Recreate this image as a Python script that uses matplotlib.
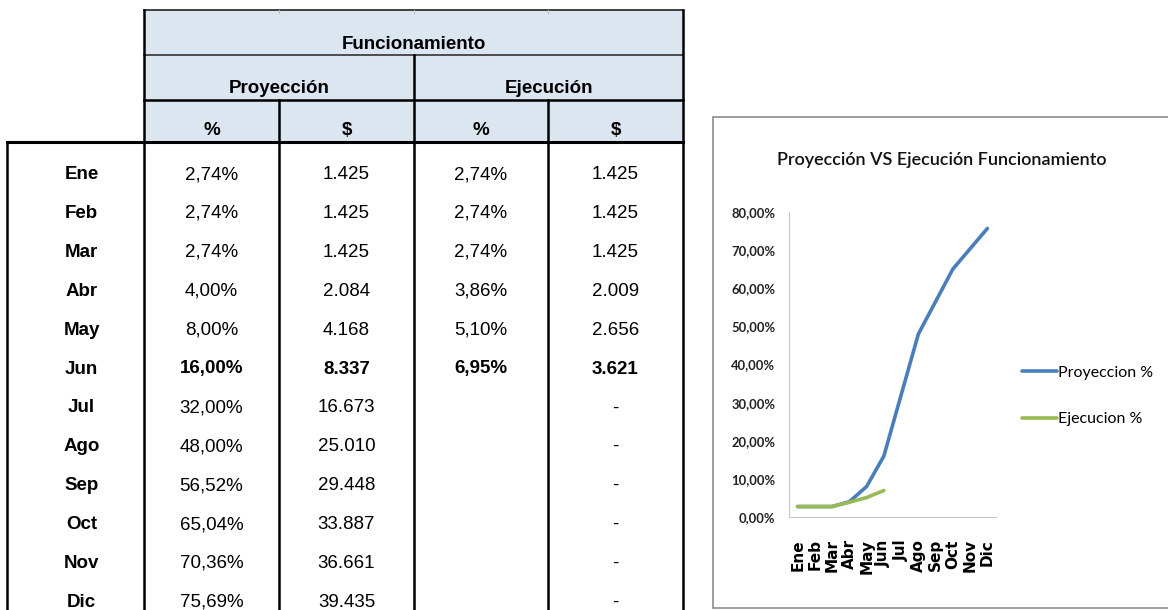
import matplotlib
matplotlib.use('Agg')
import matplotlib.pyplot as plt
from matplotlib.patches import Rectangle

# Data for the table and chart
months = ['Ene', 'Feb', 'Mar', 'Abr', 'May', 'Jun', 'Jul', 'Ago', 'Sep', 'Oct', 'Nov', 'Dic']
proy_pct = [2.74, 2.74, 2.74, 4.00, 8.00, 16.00, 32.00, 48.00, 56.52, 65.04, 70.36, 75.69]
proy_val = [1425, 1425, 1425, 2084, 4168, 8337, 16673, 25010, 29448, 33887, 36661, 39435]
ejec_pct = [2.74, 2.74, 2.74, 3.86, 5.10, 6.95]
ejec_val = [1425, 1425, 1425, 2009, 2656, 3621]
bold_row = 'Jun'

def fmt_pct(v):
    return f'{v:.2f}'.replace('.', ',') + '%'

def fmt_val(v):
    return f'{v:,}'.replace(',', '.')

fig = plt.figure(figsize=(11.68, 6.10), dpi=100)

# ---- table drawn in pixel coordinates ----
tab = fig.add_axes([0, 0, 1, 1])
tab.set_xlim(0, 1168)
tab.set_ylim(610, 0)
tab.axis('off')

cols = [7, 144, 279, 414, 548, 683]
hdr = [10, 55, 100, 142]
head_fill = '#dce6f1'
tfont = 'Liberation Sans'
fs = 13.5

tab.add_patch(Rectangle((cols[1], hdr[0]), cols[5] - cols[1], hdr[3] - hdr[0],
                        facecolor=head_fill, edgecolor='none'))
# header lines
tab.plot([cols[1], cols[5]], [hdr[0], hdr[0]], color='#222222', lw=1.2)
tab.plot([cols[1], cols[5]], [hdr[1], hdr[1]], color='#333333', lw=1.2)
tab.plot([cols[1], cols[5]], [hdr[2], hdr[2]], color='black', lw=1.8)
tab.plot([cols[1], cols[1]], [hdr[0], 620], color='black', lw=1.8)
tab.plot([cols[5], cols[5]], [hdr[0], 620], color='black', lw=1.8)
tab.plot([cols[3], cols[3]], [hdr[1], 620], color='black', lw=1.8)
for x in (cols[2], cols[4]):
    tab.plot([x, x], [hdr[2], 620], color='black', lw=1.8)
    tab.plot([x, x], [hdr[0], hdr[0] + 3], color='#bbbbbb', lw=0.8)
tab.plot([cols[3], cols[3]], [hdr[0], hdr[0] + 3], color='#bbbbbb', lw=0.8)
tab.plot([cols[0], cols[5]], [hdr[3], hdr[3]], color='black', lw=2.2)
tab.plot([cols[0], cols[0]], [hdr[3], 620], color='black', lw=1.8)

tab.text((cols[1] + cols[5]) / 2, 49, 'Funcionamiento', ha='center', va='baseline',
         fontsize=fs, fontweight='bold', family=tfont)
tab.text((cols[1] + cols[3]) / 2, 93, 'Proyección', ha='center', va='baseline',
         fontsize=fs, fontweight='bold', family=tfont)
tab.text((cols[3] + cols[5]) / 2, 93, 'Ejecución', ha='center', va='baseline',
         fontsize=fs, fontweight='bold', family=tfont)
for i, lab in enumerate(['%', '$', '%', '$']):
    tab.text((cols[i + 1] + cols[i + 2]) / 2, 135, lab, ha='center', va='baseline',
             fontsize=fs, fontweight='bold', family=tfont)

row0, row_h = 179, 38.9
centers = [(cols[i] + cols[i + 1]) / 2 for i in range(5)]
for i, m in enumerate(months):
    y = row0 + i * row_h
    w = 'bold' if m == bold_row else 'normal'
    cells = [m, fmt_pct(proy_pct[i]), fmt_val(proy_val[i]),
             fmt_pct(ejec_pct[i]) if i < len(ejec_pct) else '',
             fmt_val(ejec_val[i]) if i < len(ejec_val) else '-']
    for j, c in enumerate(cells):
        tab.text(centers[j] + (6 if j == 0 else 0), y, c, ha='center', va='baseline',
                 fontsize=fs, family=tfont, fontweight='bold' if j == 0 else w)

# chart area frame
tab.add_patch(Rectangle((713, 117), 470, 491, facecolor='white',
                        edgecolor='#8c8c8c', lw=1.2))

# ---- line chart ----
cfont = ['Lato', 'DejaVu Sans']
ax = fig.add_axes([789 / 1168, 1 - 517 / 610, (996 - 789) / 1168, (517 - 212) / 610])
x = list(range(len(months)))
ax.plot(x, proy_pct, color='#4a7ebb', lw=2.6, solid_capstyle='round', label='Proyeccion %')
ax.plot(x[:len(ejec_pct)], ejec_pct, color='#98b954', lw=2.6, solid_capstyle='round',
        label='Ejecucion %')
ax.set_xlim(-0.5, len(months) - 0.5)
ax.set_ylim(0, 80)
ax.set_yticks(range(0, 81, 10))
ax.set_yticklabels([f'{v},00%' for v in range(0, 81, 10)], family=cfont, fontsize=9.4,
                   color='#222222', fontweight='bold')
ax.set_xticks(x)
ax.set_xticklabels(months, rotation=90, family='DejaVu Sans', fontweight='bold',
                   fontsize=11)
ax.tick_params(axis='y', length=0, pad=10)
ax.tick_params(axis='x', length=0, pad=16)
for s in ('top', 'right'):
    ax.spines[s].set_visible(False)
for s in ('left', 'bottom'):
    ax.spines[s].set_color('#c8c8c8')
ax.patch.set_alpha(0)

fig.text(942 / 1168, 1 - 160 / 610, 'Proyección VS Ejecución Funcionamiento', ha='center',
         va='center', fontsize=13, family=cfont, color='#111111', fontweight='semibold')
fig.legend(loc='center left', bbox_to_anchor=(1022 / 1168, 1 - 396 / 610), frameon=False,
           prop={'family': cfont, 'size': 11.5}, handlelength=2.2, handletextpad=0.05,
           labelspacing=2.0, borderpad=0, borderaxespad=0)

fig.savefig('out.png', dpi=100)
